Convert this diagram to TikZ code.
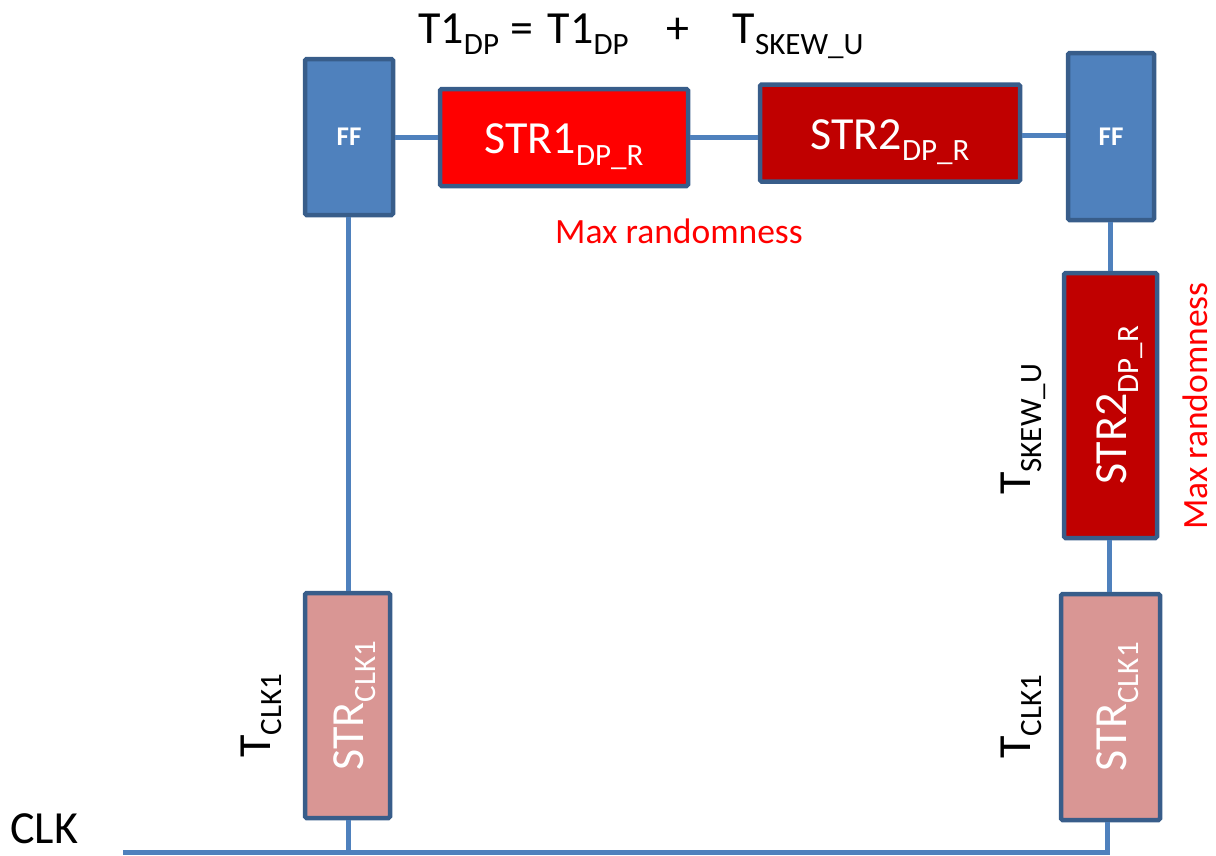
\documentclass[tikz,border=0pt]{standalone}
\usepackage{fontspec}
\setmainfont{Carlito}
\definecolor{ffblue}{HTML}{4F81BD}
\definecolor{bordc}{HTML}{385D8A}
\definecolor{wirec}{HTML}{4F81BD}
\definecolor{strred}{HTML}{FF0000}
\definecolor{strdark}{HTML}{C00000}
\definecolor{strpink}{HTML}{D99694}
\newcommand\sbx[1]{\raisebox{-0.26em}{\fontsize{31}{31}\selectfont #1}}
\newcommand\bigf{\fontsize{46}{50}\selectfont}
\tikzset{
  box/.style={draw=bordc, line width=4.5pt, rounded corners=1.5pt, inner sep=0pt, text=white, font=\bigf},
  strbox/.style={box, text height=32pt, text depth=0pt},
  ffbox/.style={box, fill=ffblue, font=\fontsize{27}{30}\selectfont\bfseries},
  wire/.style={draw=wirec, line width=5pt},
  lbl/.style={inner sep=0pt, font=\bigf, text=black},
  redlbl/.style={inner sep=0pt, font=\fontsize{35.5}{38}\selectfont, text=strred}
}
\begin{document}
\begin{tikzpicture}[x=1pt,y=-1pt]
\useasboundingbox (0,0) rectangle (1216,855);
% boxes
\node[ffbox, minimum width=88pt, minimum height=156pt] (ff1) at (349,137) {FF};
\node[strbox, fill=strred, minimum width=248pt, minimum height=97pt] (str1) at (564,137.5) {STR1\sbx{DP\_R}};
\node[strbox, fill=strdark, minimum width=260pt, minimum height=97pt] (str2) at (890,133) {STR2\sbx{DP\_R}};
\node[ffbox, minimum width=86pt, minimum height=167pt] (ff2) at (1111,136.5) {FF};
\node[strbox, fill=strdark, rotate=90, minimum width=265pt, minimum height=93pt] (str2v) at (1110.5,405.5) {STR2\sbx{DP\_R}};
\node[strbox, fill=strpink, rotate=90, minimum width=225pt, minimum height=85pt] (clkl) at (347.5,705.5) {STR\sbx{CLK1}};
\node[strbox, fill=strpink, rotate=90, minimum width=226pt, minimum height=99pt] (clkr) at (1110.5,707) {STR\sbx{CLK1}};
\coordinate (busl) at (123,852);
% wires
\draw[wire] (ff1.east |- str1.west) -- (str1.west);
\draw[wire] (str1.east) -- (str1.east -| str2.west);
\draw[wire] (str2.east |- 0,135) -- (ff2.west |- 0,135);
\draw[wire] (ff1.south -| 348,0) -- (clkl.east -| 348,0);
\draw[wire] (ff2.south -| 1110,0) -- (str2v.east -| 1110,0);
\draw[wire] (str2v.west -| 1109,0) -- (clkr.east -| 1109,0);
\draw[wire] (clkl.west -| 348,0) -- (busl -| 348,0);
\draw[wire] (clkr.west -| 1107,0) |- (busl);
% labels
\node[lbl, anchor=base west] (title) at (418,43) {T1\sbx{DP}\hspace{11pt}=\hspace{15pt}T1\sbx{DP}\hspace{38pt}+\hspace{43pt}T\sbx{SKEW\_U}};
\node[redlbl, anchor=base west] (mr1) at (555,243) {Max randomness};
\node[redlbl, anchor=base west, rotate=90] (mr2) at (1207,530) {Max randomness};
\node[lbl, anchor=base west, rotate=90] (tskew) at (1030,495) {T\sbx{SKEW\_U}};
\node[lbl, anchor=base west, rotate=90] (tclkl) at (270,758) {T\sbx{CLK1}};
\node[lbl, anchor=base west, rotate=90] (tclkr) at (1030,759) {T\sbx{CLK1}};
\node[lbl, anchor=base west] (clk) at (10,843) {CLK};
\end{tikzpicture}
\end{document}
